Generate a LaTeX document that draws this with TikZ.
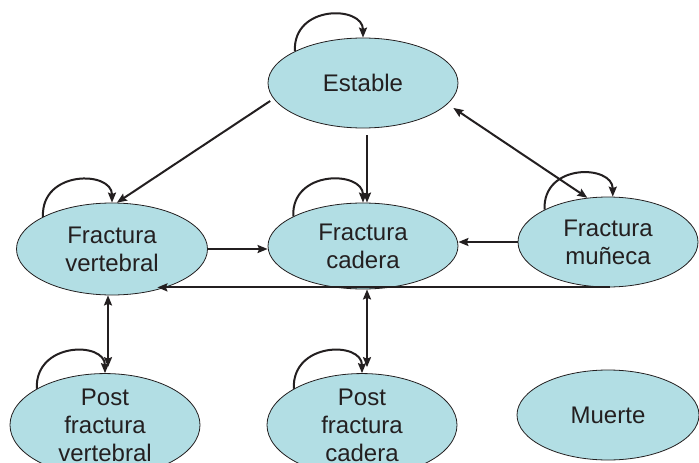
\documentclass[tikz,border=0pt]{standalone}
\usepackage{fontspec}
\setmainfont{Liberation Sans}
\usetikzlibrary{arrows.meta,shapes.geometric}
\definecolor{stfill}{HTML}{B2DEE4}
\definecolor{stline}{HTML}{231F20}
\begin{document}
\begin{tikzpicture}[x=1pt,y=-1pt,
  state/.style={ellipse,draw=stline,line width=0.8pt,fill=stfill,inner sep=0pt,
    text=stline,align=center,font=\fontsize{24}{28}\selectfont},
  arr/.style={draw=stline,line width=2pt,-{Stealth[length=10pt,width=8pt,inset=1.5pt]}},
  darr/.style={draw=stline,line width=2pt,{Stealth[length=10pt,width=8pt,inset=1.5pt]}-{Stealth[length=10pt,width=8pt,inset=1.5pt]}}]
\useasboundingbox (0,0) rectangle (699,463);
\node[state,minimum width=190pt,minimum height=90pt] (E) at (363,83) {Estable};
\node[state,minimum width=191pt,minimum height=92pt] (FV) at (112,249) {Fractura\\vertebral};
\node[state,minimum width=190pt,minimum height=86pt] (FC) at (363,246) {Fractura\\cadera};
\node[state,minimum width=180pt,minimum height=90pt] (FM) at (608,242) {Fractura\\muñeca};
\node[state,minimum width=190pt,minimum height=94pt] (PFV) at (105,425) {Post\\fractura\\vertebral};
\node[state,minimum width=190pt,minimum height=94pt] (PFC) at (362,425) {Post\\fractura\\cadera};
\node[state,minimum width=182pt,minimum height=90pt] (M) at (608,415) {Muerte};
% self loops
\draw[arr] (E.155) .. controls +(-2,-47) and +(0,-32) .. (E.90);
\draw[arr] (FV.155) .. controls +(-2,-47) and +(0,-32) .. (FV.90);
\draw[arr] (FC.157) .. controls +(-2,-47) and +(0,-32) .. (FC.90);
\draw[arr] (FM.153) .. controls +(-2,-47) and +(0,-32) .. (FM.84);
\draw[arr] (PFV.152) .. controls +(-2,-47) and +(0,-32) .. (PFV.90);
\draw[arr] (PFC.152) .. controls +(-2,-47) and +(0,-32) .. (PFC.90);
% transitions
\draw[arr,shorten <=4pt] (E.190) -- (FV.84);
\draw[arr,shorten <=7pt] ([xshift=4pt]E.south) -- ([xshift=4pt]FC.north);
\draw[darr,shorten <=7pt] (E.-14) -- (FM.115);
\draw[arr] (FV.east) -- (FV.east -| FC.west);
\draw[arr] (FM.west) -- (FM.west -| FC.east);
\draw[arr] ([xshift=2pt]FM.south) -- (FM.south -| FV.-42);
\draw[darr,shorten >=6pt] ([xshift=-4pt]FV.south) -- ([xshift=3pt]PFV.north);
\draw[darr,shorten >=6pt] ([xshift=4pt]FC.south) -- ([xshift=5pt]PFC.north);
\end{tikzpicture}
\end{document}
